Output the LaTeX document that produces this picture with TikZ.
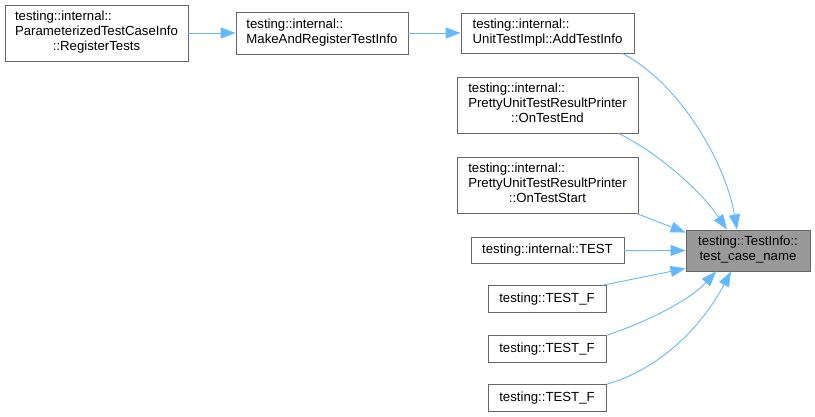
\documentclass[tikz,border=0pt]{standalone}
\usepackage{fontspec}
\setmainfont{Liberation Sans}
\usetikzlibrary{arrows.meta}
\definecolor{edgeblue}{HTML}{63B8FF}
\definecolor{boxborder}{HTML}{666666}
\definecolor{hlfill}{HTML}{999999}
\newcommand\lines[1]{\begin{tabular}{@{}l@{}}#1\end{tabular}}
\newcommand\cl[1]{\multicolumn{1}{@{}c@{}}{#1}}
\begin{document}
\begin{tikzpicture}[x=1pt,y=-1pt,
  fnbox/.style={draw=boxborder, line width=0.9pt, fill=white, inner sep=0pt,
    font=\fontsize{13.2}{15}\selectfont, align=center},
  hlbox/.style={fnbox, fill=hlfill},
  edge/.style={draw=edgeblue, line width=0.9pt, -{Triangle[length=15pt,width=11pt]}}]
\useasboundingbox (0,0) rectangle (815,417);

\node[fnbox, minimum width=183pt, minimum height=56pt] (ptci) at (96.5,33)
  {\lines{testing::internal::\\ParameterizedTestCaseInfo\\\cl{::RegisterTests}}};
\node[fnbox, minimum width=172pt, minimum height=42pt] (mart) at (322,33)
  {\lines{testing::internal::\\MakeAndRegisterTestInfo}};
\node[fnbox, minimum width=173pt, minimum height=40pt] (uti) at (547.5,33)
  {\lines{testing::internal::\\\cl{UnitTestImpl::AddTestInfo}}};
\node[fnbox, minimum width=181pt, minimum height=56pt] (ote) at (547.5,105)
  {\lines{testing::internal::\\PrettyUnitTestResultPrinter\\\cl{::OnTestEnd}}};
\node[fnbox, minimum width=181pt, minimum height=56pt] (ots) at (547.5,185)
  {\lines{testing::internal::\\PrettyUnitTestResultPrinter\\\cl{::OnTestStart}}};
\node[fnbox, minimum width=153pt, minimum height=25.6pt] (itest) at (547.5,250.5)
  {testing::internal::TEST};
\node[fnbox, minimum width=118pt, minimum height=26.5pt] (tf1) at (547,299)
  {testing::TEST\_F};
\node[fnbox, minimum width=118pt, minimum height=26.5pt] (tf2) at (547,349)
  {testing::TEST\_F};
\node[fnbox, minimum width=118pt, minimum height=26.5pt] (tf3) at (547,398)
  {testing::TEST\_F};
\node[hlbox, minimum width=124pt, minimum height=41pt] (tgt) at (748,250.5)
  {\lines{testing::TestInfo::\\\cl{test\_case\_name}}};

\draw[edge] (ptci.east) -- (mart.west);
\draw[edge] (mart.east) -- (uti.west);
\draw[edge] ([xshift=-12pt]uti.south east) .. controls (682,85) and (726,165) .. ([xshift=-11pt]tgt.north);
\draw[edge] ([xshift=-20pt]ote.south east) .. controls (657,152) and (700,190) .. ([xshift=-21pt]tgt.north);
\draw[edge] ([xshift=-2pt]ots.south east) -- ([yshift=-3pt]tgt.north west);
\draw[edge] (itest.east) -- (tgt.west);
\draw[edge] ([xshift=-4pt]tf1.north east) -- ([yshift=3pt]tgt.south west);
\draw[edge] (tf2.north east) .. controls (647,322) and (690,300) .. ([xshift=-32pt]tgt.south);
\draw[edge] (tf3.north east) .. controls (657,370) and (700,330) .. ([xshift=-17pt]tgt.south);
\end{tikzpicture}
\end{document}
